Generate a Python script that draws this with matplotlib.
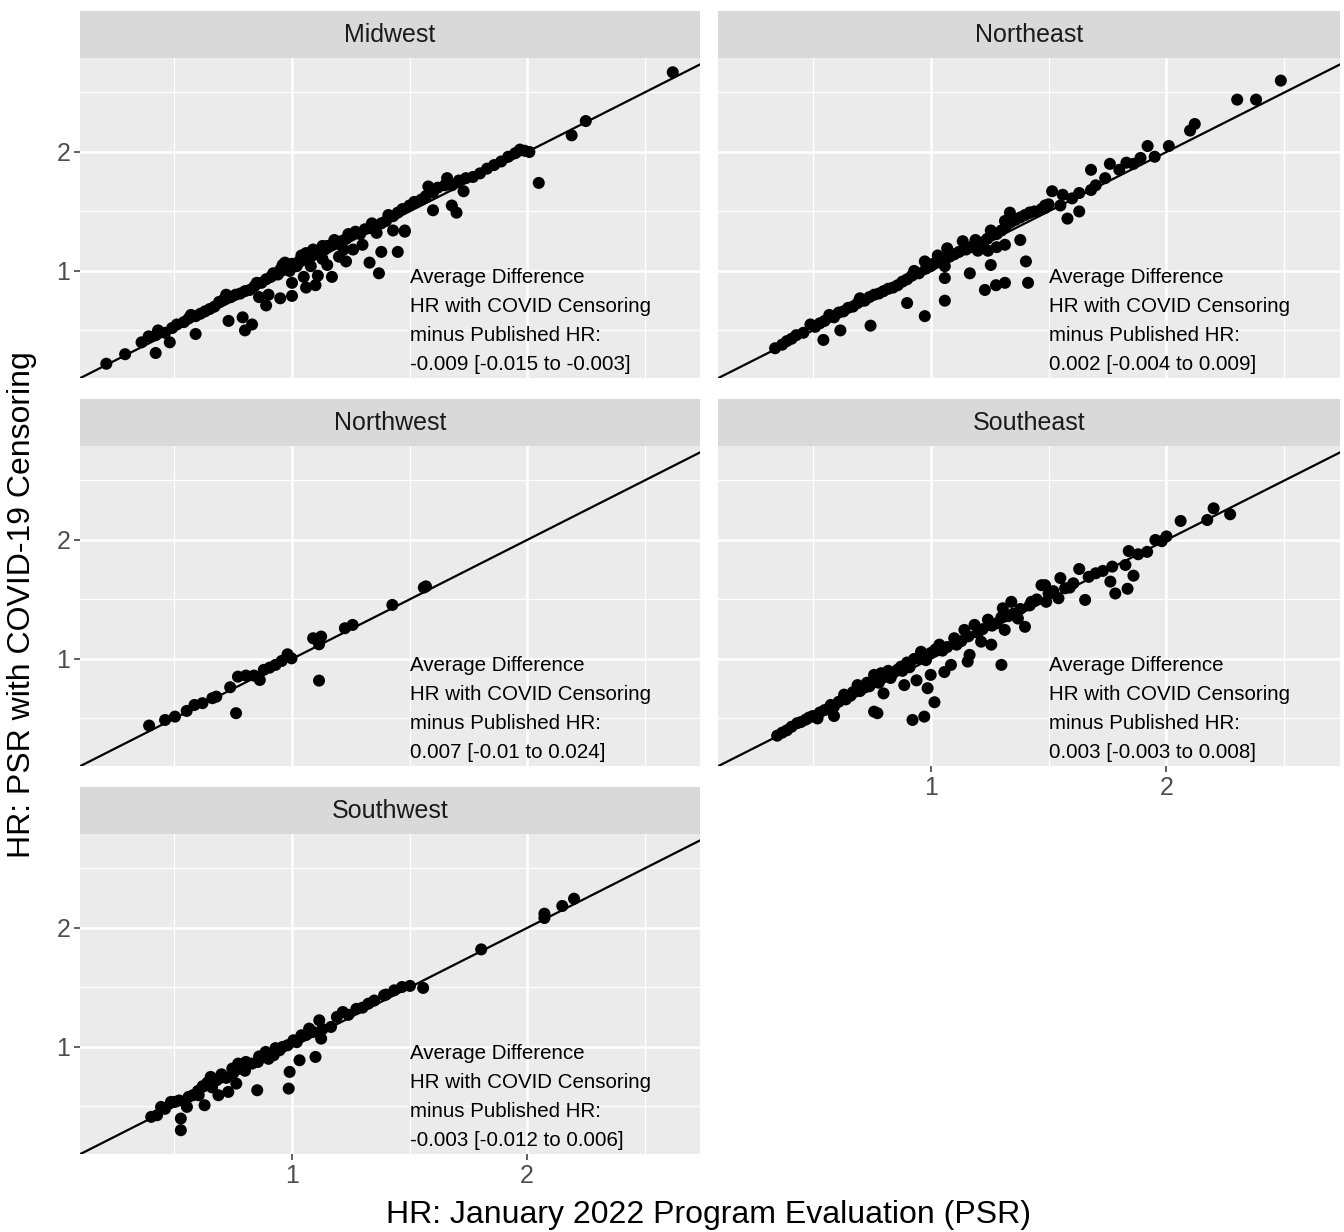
import matplotlib
matplotlib.use("Agg")
import matplotlib.pyplot as plt

plt.rcParams["font.family"] = ["Liberation Sans", "DejaVu Sans"]

# HR from the January 2022 program evaluation (x) vs HR with COVID-19 censoring (y)
regions = ["Midwest", "Northeast", "Northwest", "Southeast", "Southwest"]

midwest = [
    (0.21, 0.22), (0.29, 0.30), (0.36, 0.40), (0.39, 0.45), (0.42, 0.46), (0.43, 0.50),
    (0.46, 0.48), (0.49, 0.52), (0.51, 0.55), (0.54, 0.57), (0.56, 0.60), (0.57, 0.63),
    (0.59, 0.62), (0.61, 0.64), (0.63, 0.66), (0.65, 0.68), (0.67, 0.70), (0.69, 0.74),
    (0.71, 0.76), (0.72, 0.80), (0.74, 0.78), (0.76, 0.80), (0.78, 0.81), (0.80, 0.83),
    (0.82, 0.84), (0.84, 0.87), (0.85, 0.90), (0.87, 0.90), (0.89, 0.93), (0.91, 0.95),
    (0.92, 0.98), (0.94, 0.97), (0.95, 1.01), (0.96, 1.05), (0.98, 1.03), (0.99, 1.00),
    (1.00, 1.06), (1.02, 1.04), (1.03, 1.08), (1.05, 1.10), (1.06, 1.15), (1.08, 1.12),
    (1.10, 1.14), (1.12, 1.17), (1.14, 1.18), (1.15, 1.21), (1.17, 1.22), (1.19, 1.23),
    (1.21, 1.25), (1.23, 1.27), (1.25, 1.30), (1.27, 1.33), (1.29, 1.31), (1.31, 1.35),
    (1.33, 1.36), (1.35, 1.38), (1.38, 1.40), (1.40, 1.42), (1.43, 1.46), (1.45, 1.49),
    (1.47, 1.52), (1.50, 1.55), (1.52, 1.58), (1.55, 1.60), (1.57, 1.63), (1.60, 1.66),
    (1.62, 1.70), (1.65, 1.72), (1.68, 1.72), (1.71, 1.76), (1.74, 1.78), (1.77, 1.79),
    (1.80, 1.82), (1.83, 1.86), (1.86, 1.89), (1.89, 1.92), (1.92, 1.96), (1.95, 1.99),
    (1.97, 2.02), (1.99, 2.01), (2.01, 2.00),
    (0.79, 0.61), (0.89, 0.71), (0.95, 0.77), (1.00, 0.79), (1.06, 0.86), (1.10, 0.88),
    (1.11, 0.96), (1.17, 0.95), (1.23, 1.08), (1.30, 1.22), (1.33, 1.07), (1.37, 0.98),
    (1.38, 1.16), (1.45, 1.16), (1.43, 1.34), (1.48, 1.33), (0.83, 0.55), (0.80, 0.50),
    (0.73, 0.58), (0.59, 0.47), (0.48, 0.40), (0.42, 0.31), (1.00, 0.90), (1.05, 0.95),
    (1.15, 1.05), (1.20, 1.12), (1.26, 1.18), (0.90, 0.80), (0.86, 0.78),
    (1.60, 1.51), (1.66, 1.78), (1.68, 1.55), (1.70, 1.49), (1.73, 1.67), (1.58, 1.71),
    (1.48, 1.34), (2.05, 1.74), (2.19, 2.14), (2.25, 2.26), (2.62, 2.67),
    (0.97, 1.07), (1.04, 1.13), (1.09, 1.18), (1.13, 1.21), (1.18, 1.26), (1.24, 1.31),
    (1.34, 1.40), (1.41, 1.47), (1.08, 1.04), (1.13, 1.10), (1.22, 1.18), (1.36, 1.32),
]

northeast = [
    (0.34, 0.35), (0.37, 0.38), (0.39, 0.41), (0.41, 0.43), (0.43, 0.46), (0.46, 0.48),
    (0.49, 0.55), (0.51, 0.53), (0.53, 0.56), (0.55, 0.58), (0.57, 0.63), (0.59, 0.61),
    (0.61, 0.65), (0.63, 0.66), (0.65, 0.69), (0.67, 0.70), (0.69, 0.73), (0.70, 0.77),
    (0.72, 0.75), (0.74, 0.78), (0.76, 0.80), (0.78, 0.81), (0.80, 0.83), (0.82, 0.85),
    (0.84, 0.86), (0.86, 0.88), (0.88, 0.91), (0.90, 0.93), (0.92, 0.96), (0.93, 1.00),
    (0.95, 0.98), (0.975, 1.08), (0.98, 1.02), (1.00, 1.04), (1.01, 1.06), (1.03, 1.13),
    (1.04, 1.08), (1.05, 1.10), (1.06, 1.04), (1.07, 1.19), (1.08, 1.12), (1.10, 1.14),
    (1.12, 1.16), (1.136, 1.25), (1.15, 1.18), (1.17, 1.20), (1.19, 1.26), (1.20, 1.22),
    (1.22, 1.24), (1.24, 1.27), (1.26, 1.30), (1.28, 1.31), (1.30, 1.34), (1.32, 1.38),
    (1.34, 1.41), (1.36, 1.43), (1.38, 1.45), (1.40, 1.47), (1.42, 1.49), (1.44, 1.50),
    (1.47, 1.52), (1.485, 1.53), (1.485, 1.55), (1.50, 1.56), (1.515, 1.67), (1.55, 1.55),
    (1.56, 1.64), (1.58, 1.44), (1.60, 1.61), (1.63, 1.655), (1.63, 1.50), (1.68, 1.68),
    (1.68, 1.85), (1.70, 1.72), (1.74, 1.78), (1.76, 1.90), (1.80, 1.85), (1.83, 1.91),
    (1.86, 1.90), (1.89, 1.95), (1.92, 2.05), (1.95, 1.96), (2.01, 2.05), (2.10, 2.18),
    (2.12, 2.235), (2.30, 2.44), (2.38, 2.44), (2.485, 2.60),
    (0.545, 0.42), (0.617, 0.50), (0.745, 0.54), (0.90, 0.73), (0.975, 0.62), (1.06, 0.75),
    (1.06, 0.94), (1.166, 0.98), (1.23, 0.84), (1.277, 0.88), (1.315, 0.90), (1.413, 0.90),
    (1.404, 1.08), (1.255, 1.05), (1.243, 1.17), (1.315, 1.22), (1.38, 1.26), (1.255, 1.34),
    (1.336, 1.49), (1.315, 1.42), (1.42, 1.49), (1.20, 1.17), (1.28, 1.20),
]

northwest = [
    (0.392, 0.44), (0.46, 0.487), (0.502, 0.515), (0.552, 0.563), (0.585, 0.613),
    (0.619, 0.628), (0.661, 0.67), (0.678, 0.683), (0.737, 0.762), (0.762, 0.544),
    (0.77, 0.851), (0.804, 0.86), (0.838, 0.86), (0.863, 0.823), (0.88, 0.908),
    (0.905, 0.927), (0.93, 0.95), (0.956, 0.983), (0.981, 1.039), (0.998, 1.005),
    (1.09, 1.174), (1.124, 1.188), (1.115, 1.123), (1.115, 0.818), (1.225, 1.258),
    (1.258, 1.286), (1.427, 1.454), (1.561, 1.60), (1.57, 1.61),
]

southeast = [
    (0.349, 0.355), (0.37, 0.38), (0.39, 0.40), (0.41, 0.43), (0.434, 0.46), (0.45, 0.47),
    (0.47, 0.49), (0.484, 0.507), (0.50, 0.52), (0.52, 0.50), (0.53, 0.55), (0.55, 0.57),
    (0.576, 0.613), (0.59, 0.60), (0.61, 0.64), (0.633, 0.70), (0.64, 0.66), (0.66, 0.69),
    (0.67, 0.72), (0.69, 0.78), (0.70, 0.73), (0.72, 0.76), (0.73, 0.80), (0.74, 0.77),
    (0.76, 0.866), (0.77, 0.83), (0.78, 0.80), (0.79, 0.88), (0.80, 0.85), (0.82, 0.90),
    (0.83, 0.84), (0.84, 0.88), (0.86, 0.91), (0.874, 0.935), (0.88, 0.90), (0.90, 0.97),
    (0.91, 0.93), (0.93, 1.00), (0.945, 1.006), (0.959, 1.06), (0.97, 1.02), (0.98, 0.99),
    (1.00, 1.05), (1.02, 1.08), (1.037, 1.12), (1.05, 1.07), (1.07, 1.10), (1.086, 0.95),
    (1.10, 1.174), (1.11, 1.12), (1.13, 1.15), (1.143, 1.244), (1.16, 1.19), (1.165, 1.034),
    (1.186, 1.286), (1.20, 1.22), (1.214, 1.145), (1.22, 1.25), (1.243, 1.33), (1.257, 1.12),
    (1.26, 1.28), (1.28, 1.30), (1.30, 1.35), (1.306, 1.426), (1.314, 1.244), (1.33, 1.36),
    (1.342, 1.48), (1.35, 1.38), (1.37, 1.34), (1.38, 1.42), (1.40, 1.27), (1.42, 1.45),
    (1.427, 1.48), (1.45, 1.50), (1.47, 1.62), (1.485, 1.62), (1.49, 1.48), (1.50, 1.55),
    (1.52, 1.57), (1.542, 1.51), (1.55, 1.68), (1.57, 1.594), (1.59, 1.60), (1.605, 1.636),
    (1.63, 1.756), (1.655, 1.496), (1.67, 1.69), (1.70, 1.72), (1.73, 1.74), (1.762, 1.65),
    (1.77, 1.776), (1.783, 1.55), (1.826, 1.79), (1.835, 1.59), (1.84, 1.907), (1.86, 1.70),
    (1.88, 1.88), (1.918, 1.90), (1.953, 2.0), (1.98, 1.99), (2.0, 2.03), (2.06, 2.16),
    (2.173, 2.168), (2.20, 2.266), (2.27, 2.216),
    (0.59, 0.52), (0.76, 0.557), (0.774, 0.544), (0.80, 0.71), (0.888, 0.78), (0.923, 0.487),
    (0.973, 0.515), (0.987, 0.754), (1.016, 0.636), (0.94, 0.82), (1.00, 0.866),
    (1.058, 0.89), (1.157, 0.978), (1.30, 0.95),
]

southwest = [
    (0.401, 0.412), (0.426, 0.426), (0.443, 0.496), (0.485, 0.538), (0.502, 0.538),
    (0.527, 0.398), (0.527, 0.30), (0.553, 0.496), (0.578, 0.594), (0.603, 0.594),
    (0.628, 0.51), (0.654, 0.748), (0.679, 0.72), (0.687, 0.594), (0.729, 0.622),
    (0.763, 0.692), (0.746, 0.818), (0.771, 0.86), (0.804, 0.874), (0.852, 0.636),
    (0.855, 0.874), (0.888, 0.958), (0.922, 0.93), (0.947, 0.972), (0.981, 1.014),
    (0.986, 0.65), (0.99, 0.79), (1.006, 1.056), (1.032, 0.888), (1.04, 1.098),
    (1.073, 1.154), (1.09, 1.126), (1.10, 0.916), (1.116, 1.224), (1.124, 1.07),
    (1.166, 1.168), (1.191, 1.252), (1.216, 1.294), (1.274, 1.32), (1.325, 1.364),
    (1.35, 1.39), (1.392, 1.434), (1.435, 1.476), (1.468, 1.504), (1.502, 1.513),
    (1.558, 1.496), (1.805, 1.82), (2.074, 2.084), (2.074, 2.12), (2.15, 2.185),
    (2.20, 2.246),
    (0.46, 0.48), (0.52, 0.55), (0.56, 0.58), (0.60, 0.63), (0.62, 0.67), (0.64, 0.70),
    (0.66, 0.66), (0.70, 0.77), (0.72, 0.74), (0.75, 0.78), (0.78, 0.83), (0.80, 0.80),
    (0.83, 0.86), (0.86, 0.92), (0.90, 0.90), (0.93, 0.99), (0.96, 1.00), (1.02, 1.04),
    (1.06, 1.10), (1.13, 1.15), (1.24, 1.27), (1.30, 1.33), (1.40, 1.44),
]

annotations = [
    "Average Difference\nHR with COVID Censoring\nminus Published HR:\n-0.009 [-0.015 to -0.003]",
    "Average Difference\nHR with COVID Censoring\nminus Published HR:\n0.002 [-0.004 to 0.009]",
    "Average Difference\nHR with COVID Censoring\nminus Published HR:\n0.007 [-0.01 to 0.024]",
    "Average Difference\nHR with COVID Censoring\nminus Published HR:\n0.003 [-0.003 to 0.008]",
    "Average Difference\nHR with COVID Censoring\nminus Published HR:\n-0.003 [-0.012 to 0.006]",
]

W, H = 1344, 1232
fig = plt.figure(figsize=(W / 100, H / 100), dpi=100)

# panel boxes in pixels: left, right, bottom of panel
col_px = [(80, 700), (718, 1340)]
row_bottom_px = [378, 766, 1154]
panel_h = 320
strip_h = 47

data = [midwest, northeast, northwest, southeast, southwest]

for i, (name, pts, note) in enumerate(zip(regions, data, annotations)):
    row, col = divmod(i, 2)
    x0, x1 = col_px[col]
    yb = row_bottom_px[row]
    ax = fig.add_axes([x0 / W, 1 - yb / H, (x1 - x0) / W, panel_h / H])
    ax.set_facecolor("#EBEBEB")
    for s in ax.spines.values():
        s.set_visible(False)
    ax.set_xlim(0.098, 2.736)
    ax.set_ylim(0.10, 2.79)
    ax.set_xticks([1, 2])
    ax.set_yticks([1, 2])
    ax.set_xticks([0.5, 1.5, 2.5], minor=True)
    ax.set_yticks([0.5, 1.5, 2.5], minor=True)
    ax.grid(which="major", color="white", linewidth=1.8)
    ax.grid(which="minor", color="white", linewidth=0.9)
    ax.set_axisbelow(True)
    ax.tick_params(which="minor", length=0)
    ax.tick_params(which="major", length=4, width=1.1, color="#333333",
                   labelsize=18, labelcolor="#4D4D4D", pad=3)

    show_x = (row == 2) or (row == 1 and col == 1)
    if not show_x:
        ax.tick_params(axis="x", which="major", length=0, labelbottom=False)
    if col == 1:
        ax.tick_params(axis="y", which="major", length=0, labelleft=False)

    ax.axline((1, 1), slope=1, color="black", linewidth=1.6, zorder=2)
    xs = [p[0] for p in pts]
    ys = [p[1] for p in pts]
    ax.scatter(xs, ys, s=75, color="black", edgecolors="none", zorder=3)

    ax.text(0.532, 0.012, note, transform=ax.transAxes, ha="left", va="bottom",
            fontsize=14.8, color="black", linespacing=1.66)

    # facet strip
    sax = fig.add_axes([x0 / W, 1 - (yb - panel_h) / H, (x1 - x0) / W, strip_h / H])
    sax.set_facecolor("#D9D9D9")
    sax.set_xticks([])
    sax.set_yticks([])
    for s in sax.spines.values():
        s.set_visible(False)
    sax.text(0.5, 0.5, name, ha="center", va="center", fontsize=18,
             color="#1A1A1A", transform=sax.transAxes)

fig.text(709 / W, 1 - 1215 / H, "HR: January 2022 Program Evaluation (PSR)",
         ha="center", va="center", fontsize=23)
fig.text(22 / W, 1 - 605 / H, "HR: PSR with COVID-19 Censoring",
         ha="center", va="center", rotation=90, fontsize=23)

fig.savefig("out.png", dpi=100, facecolor="white")
